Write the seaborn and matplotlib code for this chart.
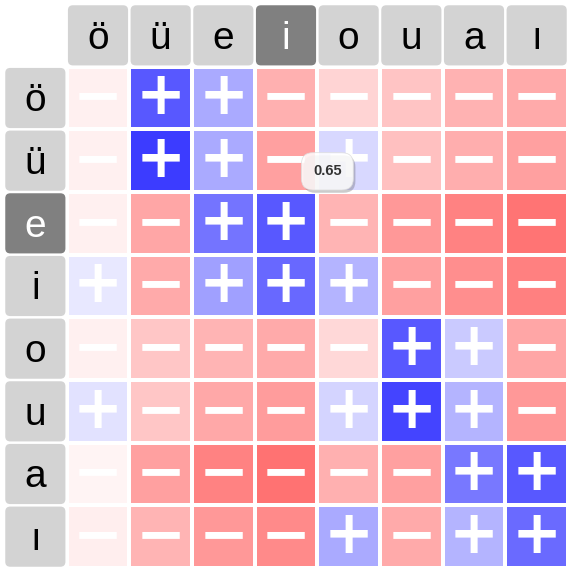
import numpy as np
import pandas as pd
import matplotlib
matplotlib.use('Agg')
import matplotlib.pyplot as plt
import matplotlib.patheffects as pe
from matplotlib.colors import LinearSegmentedColormap
from matplotlib.patches import FancyBboxPatch
import seaborn as sns

# vowel labels (rows and columns share the same order)
vowels = ['ö', 'ü', 'e', 'i', 'o', 'u', 'a', 'ı']
hl_row = 'e'
hl_col = 'i'

# association values, one list per row
row_oe = [-0.06, 0.65, 0.33, -0.31, -0.17, -0.23, -0.30, -0.33]
row_ue = [-0.06, 0.76, 0.33, -0.37, 0.15, -0.25, -0.32, -0.37]
row_e = [-0.06, -0.35, 0.54, 0.65, -0.29, -0.40, -0.49, -0.54]
row_i = [0.09, -0.33, 0.37, 0.59, 0.29, -0.37, -0.44, -0.50]
row_o = [-0.06, -0.22, -0.29, -0.33, -0.15, 0.65, 0.21, -0.35]
row_u = [0.11, -0.22, -0.34, -0.39, 0.17, 0.73, 0.29, -0.40]
row_a = [-0.04, -0.37, -0.49, -0.55, -0.31, -0.37, 0.53, 0.65]
row_ii = [-0.07, -0.29, -0.40, -0.46, 0.33, -0.33, 0.29, 0.58]

tooltip_value = 0.65

df = pd.DataFrame([row_oe, row_ue, row_e, row_i, row_o, row_u, row_a, row_ii],
                  index=vowels, columns=vowels)

cmap = LinearSegmentedColormap.from_list('rwb', ['#ff0000', '#ffffff', '#0000ff'])

fig = plt.figure(figsize=(5.72, 5.73), dpi=100)
ax = fig.add_axes([4 / 572, 5 / 573, 564 / 572, 564 / 573])

sns.heatmap(df, ax=ax, cmap=cmap, vmin=-1, vmax=1, cbar=False,
            linewidths=1.5, linecolor='white',
            xticklabels=False, yticklabels=False)

# white dots where cell corners meet (rounded-corner look)
for gx in range(0, 9):
    for gy in range(0, 9):
        ax.plot(gx, gy, marker='D', ms=3, color='white', mec='none', zorder=2)

# +/- signs in each cell
for r, rname in enumerate(vowels):
    for c, cname in enumerate(vowels):
        v = df.loc[rname, cname]
        ax.text(c + 0.5, r + 0.5, '+' if v > 0 else '\u2212',
                ha='center', va='center', color='white',
                fontsize=43, fontweight='bold', family='DejaVu Sans', zorder=3)

# grey header boxes
def header(x, y, label, dark):
    fc = '#808080' if dark else '#d3d3d3'
    ax.add_patch(FancyBboxPatch((x + 0.02, y + 0.02), 0.96, 0.96,
                                boxstyle='round,pad=0,rounding_size=0.08',
                                fc=fc, ec='none', zorder=3))
    ax.text(x + 0.5, y + 0.715, label, ha='center', va='baseline',
            fontsize=28, family='Liberation Sans',
            color='white' if dark else 'black', zorder=4)

for c, name in enumerate(vowels):
    header(c, -1, name, name == hl_col)
for r, name in enumerate(vowels):
    header(-1, r, name, name == hl_row)

# hover tooltip
tip = ax.text(4.16, 1.67, f'{tooltip_value:.2f}', ha='center', va='center',
              fontsize=10.5, fontweight='bold', color='#333333', zorder=6,
              family='Liberation Sans',
              bbox=dict(boxstyle='round,pad=0.8', fc='white', ec='#dddddd',
                        alpha=0.85, lw=0.6))
tip.get_bbox_patch().set_path_effects(
    [pe.withSimplePatchShadow(offset=(1.5, -2), shadow_rgbFace='#555555', alpha=0.3)])

ax.set_xlim(-1, 8)
ax.set_ylim(8, -1)
ax.set_axis_off()

plt.savefig('out.png', dpi=100)
